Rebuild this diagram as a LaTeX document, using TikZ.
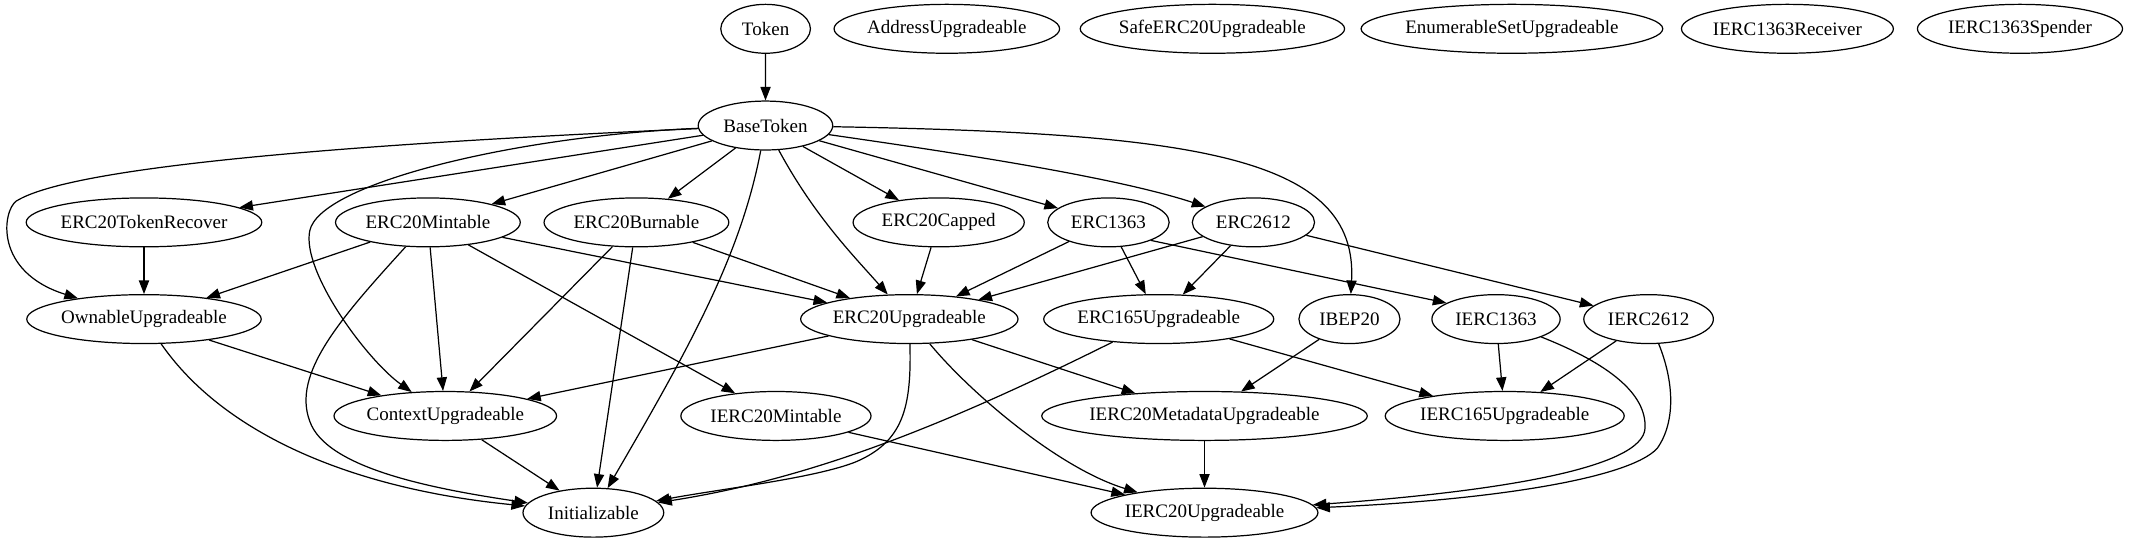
\documentclass[tikz,border=0pt]{standalone}
\usepackage{fontspec}
\setmainfont{Liberation Serif}
\usetikzlibrary{shapes.geometric,arrows.meta}
\tikzset{
  nd/.style={draw, ellipse, line width=0.9pt, minimum height=36pt, inner sep=0pt,
    font=\fontsize{14}{16}\selectfont},
  conn/.style={draw, line width=0.9pt, -{Triangle[length=10pt,width=7.5pt]}}
}
\begin{document}
\begin{tikzpicture}[x=1pt,y=-1pt]
\useasboundingbox (0,0) rectangle (1568,397);
\fill[white] (0,0) rectangle (1568,397);
% row 0
\node[nd, minimum width=66pt]    (Token) at (563.6,21.2) {Token};
\node[nd, minimum width=166pt]   (AddrU) at (697,21.2) {AddressUpgradeable};
\node[nd, minimum width=190pt]   (SafeU) at (892.5,21.2) {SafeERC20Upgradeable};
\node[nd, minimum width=214.7pt] (EnumU) at (1113,21.2) {EnumerableSetUpgradeable};
\node[nd, minimum width=156pt]   (Rcv)   at (1315.8,21.2) {IERC1363Receiver};
\node[nd, minimum width=151pt]   (Spd)   at (1487,21.2) {IERC1363Spender};
% row 1
\node[nd, minimum width=99pt]    (Base)  at (563.5,92.4) {BaseToken};
% row 2
\node[nd, minimum width=173pt]   (Recover) at (106,163.7) {ERC20TokenRecover};
\node[nd, minimum width=136pt]   (Mint)    at (315,163.7) {ERC20Mintable};
\node[nd, minimum width=136pt]   (Burn)    at (468.5,163.7) {ERC20Burnable};
\node[nd, minimum width=126pt]   (Capped)  at (691,163.7) {ERC20Capped};
\node[nd, minimum width=89.4pt]  (E1363)   at (816,163.7) {ERC1363};
\node[nd, minimum width=90pt]    (E2612)   at (922.7,163.7) {ERC2612};
% row 3
\node[nd, minimum width=172pt]   (Ownable) at (106,234.9) {OwnableUpgradeable};
\node[nd, minimum width=160pt]   (E20U)    at (669.4,234.9) {ERC20Upgradeable};
\node[nd, minimum width=168.4pt] (E165U)   at (853,234.9) {ERC165Upgradeable};
\node[nd, minimum width=74.4pt]  (IBEP)    at (993.4,234.9) {IBEP20};
\node[nd, minimum width=94.4pt]  (I1363)   at (1101.3,234.9) {IERC1363};
\node[nd, minimum width=95.4pt]  (I2612)   at (1213.6,234.9) {IERC2612};
% row 4
\node[nd, minimum width=163.6pt] (Ctx)     at (327.8,306.2) {ContextUpgradeable};
\node[nd, minimum width=140pt]   (IMint)   at (571.2,306.2) {IERC20Mintable};
\node[nd, minimum width=230.6pt] (IMeta)   at (886.7,306.2) {IERC20MetadataUpgradeable};
\node[nd, minimum width=175.3pt] (I165U)   at (1107.7,306.2) {IERC165Upgradeable};
% row 5
\node[nd, minimum width=103.6pt] (Init)    at (436.8,377.4) {Initializable};
\node[nd, minimum width=167pt]   (I20U)    at (886.7,377.4) {IERC20Upgradeable};

% edges
\draw[conn] (Token) -- (Base);
\draw[conn] (Base) -- (Recover);
\draw[conn] (Base) -- (Mint);
\draw[conn] (Base) -- (Burn);
\draw[conn] (Base) -- (Capped);
\draw[conn] (Base) -- (E1363);
\draw[conn] (Base) .. controls (700,112) and (820,130) .. (E2612);
\draw[conn] (Base) .. controls (330,103) and (60,118) .. (12,148) .. controls (2,155) and (-5,200) .. (Ownable);
\draw[conn] (Base) .. controls (380,100) and (235,135) .. (228,170) .. controls (222,200) and (270,265) .. (Ctx);
\draw[conn] (Base) .. controls (545,190) and (505,260) .. (Init);
\draw[conn] (Base) .. controls (600,160) and (630,190) .. (E20U);
\draw[conn] (Base) .. controls (880,98) and (1000,115) .. (IBEP);

\draw[conn] (Recover) -- (Ownable);
\draw[conn] (Mint) -- (Ownable);
\draw[conn] (Mint) -- (Ctx);
\draw[conn] (Mint) .. controls (250,235) and (215,275) .. (228,310) .. controls (240,345) and (320,360) .. (Init);
\draw[conn] (Mint) -- (IMint);
\draw[conn] (Mint) -- (E20U);
\draw[conn] (Burn) -- (Ctx);
\draw[conn] (Burn) -- (Init);
\draw[conn] (Burn) -- (E20U);
\draw[conn] (Capped) -- (E20U);
\draw[conn] (E1363) -- (E20U);
\draw[conn] (E1363) -- (E165U);
\draw[conn] (E1363.-23) -- (I1363.162);
\draw[conn] (E2612) -- (E20U);
\draw[conn] (E2612) -- (E165U);
\draw[conn] (E2612) -- (I2612);

\draw[conn] (Ownable) -- (Ctx);
\draw[conn] (Ownable) .. controls (165,320) and (260,360) .. (Init);
\draw[conn] (E20U) -- (Ctx);
\draw[conn] (E20U) .. controls (671,300) and (665,325) .. (630,340) .. controls (600,352) and (530,360) .. (Init);
\draw[conn] (E20U) -- (IMeta);
\draw[conn] (E20U) .. controls (715,290) and (780,345) .. (I20U);
\draw[conn] (E165U) .. controls (700,311) and (600,352) .. (Init);
\draw[conn] (E165U) -- (I165U);
\draw[conn] (IBEP) -- (IMeta);
\draw[conn] (I1363) -- (I165U);
\draw[conn] (I1363) .. controls (1185,268) and (1212,290) .. (1211,315) .. controls (1210,345) and (1100,362) .. (I20U);
\draw[conn] (I2612) -- (I165U);
\draw[conn] (I2612) .. controls (1232,280) and (1234,310) .. (1220,330) .. controls (1200,352) and (1100,368) .. (I20U);

\draw[conn] (Ctx) -- (Init);
\draw[conn] (IMint) -- (I20U);
\draw[conn] (IMeta) -- (I20U);
\end{tikzpicture}
\end{document}
